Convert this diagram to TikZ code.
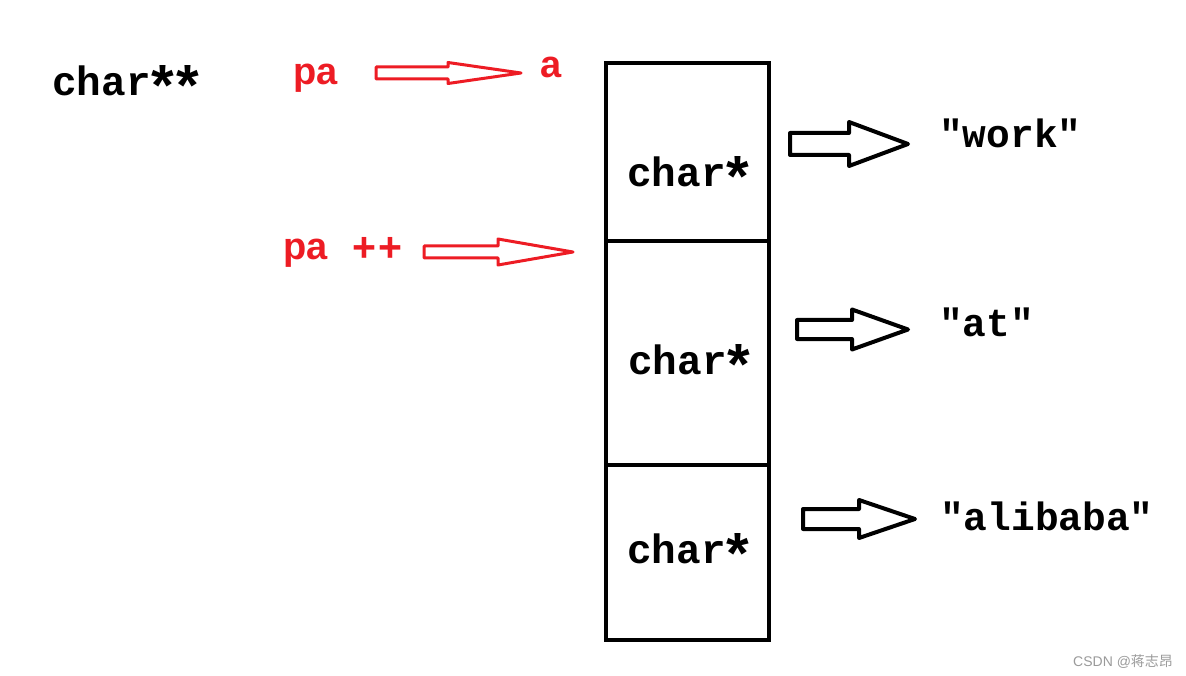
\documentclass[tikz,border=0pt]{standalone}
\usepackage{fontspec}
\newfontfamily\monof{Liberation Mono}
\newfontfamily\redf{Liberation Sans}
\newfontfamily\cjkf{Noto Sans CJK SC}
\definecolor{pred}{HTML}{ED1C24}
\definecolor{wmgrey}{HTML}{9A9A9A}
\newcommand\bigast{\makebox[24.6pt][c]{\raisebox{-12pt}{\fontsize{58}{58}\selectfont *}}}
\newcommand\BArrow[7]{%
  \draw[#1] (#2,#5-#6) -- (#3,#5-#6) -- (#3,#5-#7) -- (#4,#5) -- (#3,#5+#7) -- (#3,#5+#6) -- (#2,#5+#6) -- cycle;}
\tikzset{
  cell/.style={draw=black, line width=4pt, minimum width=163pt, inner sep=0pt, anchor=north west},
  celltext/.style={anchor=base west, inner sep=0pt, font=\monof\bfseries\fontsize{41}{41}\selectfont},
  strtext/.style={anchor=base west, inner sep=0pt, font=\monof\bfseries\fontsize{39.5}{39.5}\selectfont},
  redtext/.style={anchor=base west, inner sep=0pt, text=pred, font=\redf\bfseries\fontsize{38}{38}\selectfont},
  blackarrow/.style={draw=black, line width=4pt, line join=round},
  redarrow/.style={draw=pred, line width=3pt, line join=round},
}
\begin{document}
\begin{tikzpicture}[x=1pt,y=-1pt]
\useasboundingbox (0,0) rectangle (1186,676);
% memory cells
\node[cell, minimum height=178pt] (c1) at (604,61) {};
\node[cell, minimum height=224pt] (c2) at (604,239) {};
\node[cell, minimum height=175pt] (c3) at (604,463) {};
\node[celltext] (t1) at (627,187) {char\bigast};
\node[celltext] (t2) at (628,374) {char\bigast};
\node[celltext] (t3) at (627,563) {char\bigast};
% left label
\node[celltext] (cc) at (52,96) {char\bigast\bigast};
% red labels
\node[redtext] (pa) at (293,85) {pa};
\node[redtext] (a) at (540,78) {a};
\node[redtext] (papp) at (283,260) {pa};
\node[redtext, font=\redf\bfseries\fontsize{41}{41}\selectfont] (pp) at (352,262) {+\kern2pt+};
% strings
\node[strtext] (s1) at (939,148) {"work"};
\node[strtext] (s2) at (939,336) {"at"};
\node[strtext] (s3) at (940,530) {"alibaba"};
% arrows
\BArrow{redarrow}{376}{448}{521}{73}{6}{10.5}
\BArrow{redarrow}{424}{498}{573}{252}{6}{13}
\BArrow{blackarrow}{790}{849}{908}{144}{11}{22}
\BArrow{blackarrow}{797}{852}{908}{329.5}{9.5}{20}
\BArrow{blackarrow}{803}{859}{915}{519}{10}{19}
% watermark
\node[anchor=base west, inner sep=0pt, text=wmgrey, font=\redf\fontsize{14}{14}\selectfont] (wm) at (1073,666) {CSDN @{\cjkf 蒋志昂}};
\end{tikzpicture}
\end{document}
